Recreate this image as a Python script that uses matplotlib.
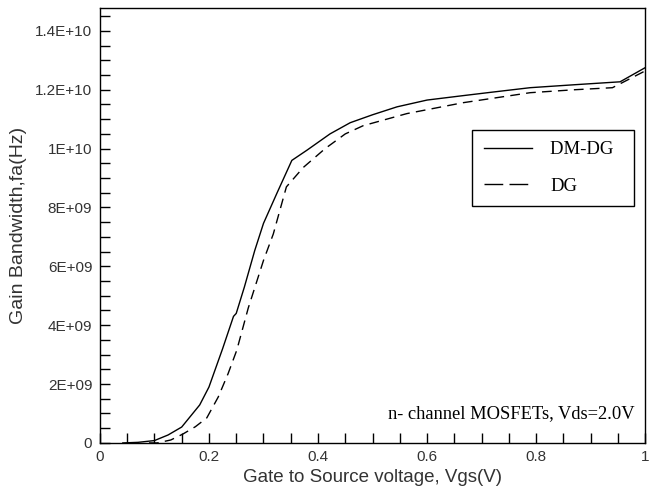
import matplotlib
matplotlib.use('Agg')
import matplotlib.pyplot as plt
from matplotlib.lines import Line2D
from matplotlib.ticker import MultipleLocator

# DM-DG (solid)
vgs_dmdg = [0.042, 0.07, 0.1, 0.125, 0.15, 0.183, 0.2, 0.225, 0.245, 0.25, 0.265,
            0.284, 0.3, 0.325, 0.352, 0.38, 0.422, 0.459, 0.5, 0.545, 0.6, 0.666,
            0.72, 0.789, 0.87, 0.954, 1.0]
gbw_dmdg = [0.0, 0.02e9, 0.08e9, 0.27e9, 0.54e9, 1.29e9, 1.9e9, 3.2e9, 4.3e9, 4.4e9, 5.3e9,
            6.54e9, 7.46e9, 8.5e9, 9.6e9, 9.95e9, 10.5e9, 10.88e9, 11.15e9, 11.42e9, 11.65e9, 11.8e9,
            11.92e9, 12.07e9, 12.17e9, 12.27e9, 12.75e9]

# DG (dashed)
vgs_dg = [0.09, 0.105, 0.13, 0.152, 0.175, 0.196, 0.217, 0.235, 0.251, 0.272, 0.3,
          0.318, 0.342, 0.373, 0.413, 0.45, 0.483, 0.563, 0.666, 0.789, 0.87, 0.94, 1.0]
gbw_dg = [0.0, 0.0, 0.1e9, 0.3e9, 0.55e9, 0.85e9, 1.56e9, 2.35e9, 3.15e9, 4.58e9, 6.2e9,
          7.1e9, 8.7e9, 9.36e9, 10.0e9, 10.5e9, 10.78e9, 11.19e9, 11.56e9, 11.9e9, 12.0e9, 12.07e9, 12.64e9]

x_ticks = [0, 0.2, 0.4, 0.6, 0.8, 1]
x_labels = ['0', '0.2', '0.4', '0.6', '0.8', '1']
y_ticks = [0, 2e9, 4e9, 6e9, 8e9, 1e10, 1.2e10, 1.4e10]
y_labels = ['0', '2E+09', '4E+09', '6E+09', '8E+09', '1E+10', '1.2E+10', '1.4E+10']

fig = plt.figure(figsize=(6.53, 4.96), dpi=100)
ax = fig.add_axes([0.153, 0.107, 0.835, 0.877])

ax.plot(vgs_dmdg, gbw_dmdg, color='black', lw=1.0)
ax.plot(vgs_dg, gbw_dg, color='black', lw=1.0, linestyle=(0, (7, 4.5)))

ax.set_xlim(0, 1)
ax.set_ylim(0, 1.478e10)

ax.set_xticks(x_ticks)
ax.set_xticklabels(x_labels)
ax.set_yticks(y_ticks)
ax.set_yticklabels(y_labels)
ax.xaxis.set_minor_locator(MultipleLocator(0.05))
ax.yaxis.set_minor_locator(MultipleLocator(5e8))

ax.tick_params(which='both', direction='in', length=7, width=1.0,
               top=False, right=False, labelsize=11, colors='black')
ax.tick_params(axis='y', pad=5.5)
ax.tick_params(axis='x', pad=5)
for lab in ax.get_xticklabels() + ax.get_yticklabels():
    lab.set_family('Liberation Sans')
    lab.set_color('#333333')

for sp in ax.spines.values():
    sp.set_linewidth(1.0)

ax.set_xlabel('Gate to Source voltage, Vgs(V)', fontsize=13.5, family='Liberation Sans',
              color='#333333', labelpad=4)
ax.set_ylabel('Gain Bandwidth,fa(Hz)', fontsize=14, family='Liberation Sans',
              color='#333333', labelpad=6)

# legend handles: the legend dashes are longer than the plotted ones
h_solid = Line2D([], [], color='black', lw=1.0)
h_dash = Line2D([], [], color='black', lw=1.0, linestyle=(0, (13.5, 4.5)))
leg = ax.legend([h_solid, h_dash], ['DM-DG  ', 'DG'], loc='upper right',
                bbox_to_anchor=(0.98, 0.72), frameon=True, framealpha=1,
                fancybox=False, edgecolor='black', handlelength=2.6, handletextpad=0.95,
                borderpad=0.6, labelspacing=1.05, borderaxespad=0,
                prop={'family': 'Liberation Serif', 'size': 13.5})
leg.get_frame().set_linewidth(1.0)

ax.text(0.981, 0.0575, 'n- channel MOSFETs, Vds=2.0V', transform=ax.transAxes,
        ha='right', va='baseline', fontsize=13.3, family='Liberation Serif')

fig.savefig('out.png', dpi=100)
